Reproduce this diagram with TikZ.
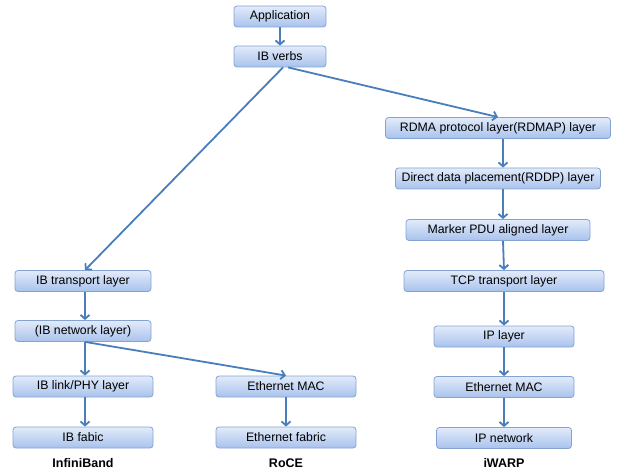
\documentclass[tikz,border=0pt]{standalone}
\usepackage{fontspec}
\setmainfont{Liberation Sans}
\usetikzlibrary{arrows.meta}
\definecolor{boxtop}{HTML}{E2EBFA}
\definecolor{boxbot}{HTML}{A9C2EC}
\definecolor{boxline}{HTML}{84A3D3}
\definecolor{arr}{HTML}{4A7EBB}
\begin{document}
\begin{tikzpicture}[x=1pt,y=-1pt,
  layer/.style={draw=boxline, line width=0.8pt, rounded corners=3pt, top color=boxtop, bottom color=boxbot,
    minimum height=21pt, inner sep=0pt, font=\fontsize{12.3}{14}\selectfont},
  lbl/.style={font=\fontsize{12.5}{14}\selectfont\bfseries},
  link/.style={draw=arr, line width=1.8pt, -{Straight Barb[length=4pt,width=9pt,line width=1.8pt]}}]
\useasboundingbox (0,0) rectangle (624,473);
% top
\node[layer, minimum width=92pt] (app) at (280,16.5) {Application};
\node[layer, minimum width=92pt] (ibv) at (280,56.5) {IB verbs};
% iWARP column
\node[layer, minimum width=225pt] (rdmap) at (498,128) {RDMA protocol layer(RDMAP) layer};
\node[layer, minimum width=205pt] (rddp) at (498,178.5) {Direct data placement(RDDP) layer};
\node[layer, minimum width=184pt] (mpa) at (498,230) {Marker PDU aligned layer};
\node[layer, minimum width=200pt] (tcp) at (504,281) {TCP transport layer};
\node[layer, minimum width=140pt] (ip) at (504,336.5) {IP layer};
\node[layer, minimum width=140pt] (emac2) at (504,387) {Ethernet MAC};
\node[layer, minimum width=135pt] (ipnet) at (504,438) {IP network};
% InfiniBand column
\node[layer, minimum width=136pt] (ibt) at (83,281) {IB transport layer};
\node[layer, minimum width=136pt] (ibn) at (83,331) {(IB network layer)};
\node[layer, minimum width=140pt] (ibl) at (83,386.5) {IB link/PHY layer};
\node[layer, minimum width=140pt] (ibf) at (83,437.5) {IB fabic};
% RoCE column
\node[layer, minimum width=140pt] (emac1) at (286,386.5) {Ethernet MAC};
\node[layer, minimum width=140pt] (ethf) at (286,437.5) {Ethernet fabric};
% labels
\node[lbl] (l1) at (83,463) {InfiniBand};
\node[lbl] (l2) at (286,463) {RoCE};
\node[lbl] (l3) at (504,463) {iWARP};
% connectors
\draw[link] (app) -- (ibv);
\draw[link] ([xshift=3pt]ibv.south) -- ([xshift=2pt]ibt.north);
\draw[link] ([xshift=8pt]ibv.south) -- (rdmap.north);
\draw[link] ([xshift=5pt]rdmap.south) -- ([xshift=5pt]rddp.north);
\draw[link] ([xshift=5pt]rddp.south) -- ([xshift=5pt]mpa.north);
\draw[link] ([xshift=5pt]mpa.south) -- (tcp.north);
\draw[link] (tcp) -- (ip);
\draw[link] (ip) -- (emac2);
\draw[link] (emac2) -- (ipnet);
\draw[link] ([xshift=2pt]ibt.south) -- ([xshift=2pt]ibn.north);
\draw[link] ([xshift=2pt]ibn.south) -- ([xshift=2pt]ibl.north);
\draw[link] ([xshift=2pt]ibn.south) -- (emac1.north);
\draw[link] ([xshift=2pt]ibl.south) -- ([xshift=2pt]ibf.north);
\draw[link] (emac1) -- (ethf);
\end{tikzpicture}
\end{document}
